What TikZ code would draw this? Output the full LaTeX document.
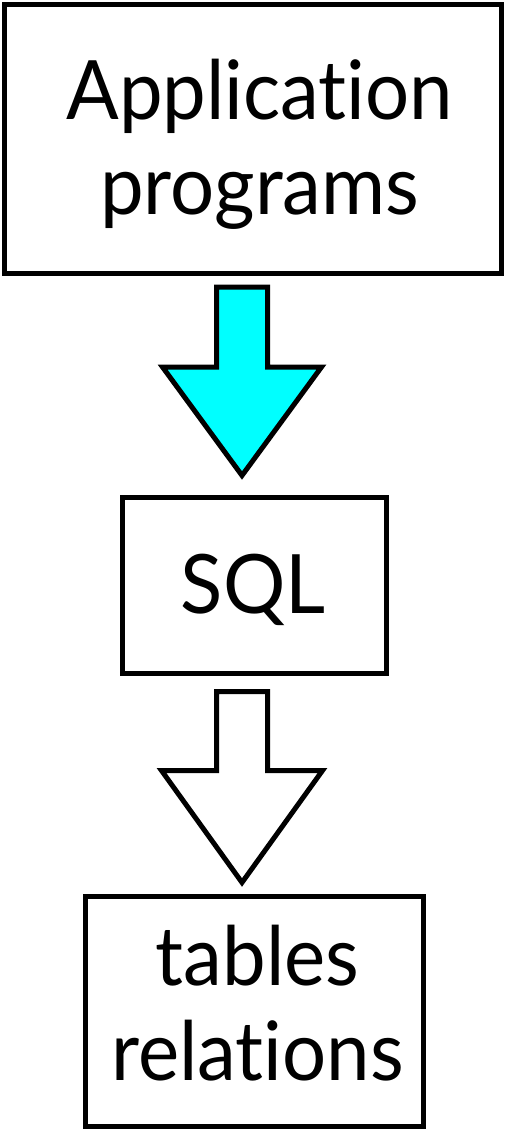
\documentclass[tikz,border=0pt]{standalone}
\usepackage{fontspec}
\setmainfont{Lato}[Ligatures={NoCommon},FakeStretch=0.95]
\usetikzlibrary{calc}
\definecolor{aqua}{RGB}{0,255,255}
\begin{document}
\begin{tikzpicture}[x=1pt,y=-1pt,line join=miter,
  box/.style={draw=black,line width=5pt,fill=white,rectangle,inner sep=0pt},
  boxtext/.style={inner sep=0pt,align=center,font=\fontsize{82}{95}\selectfont},
  blockarrow/.style={draw=black,line width=5pt,line join=miter,miter limit=10}]
  \useasboundingbox (0,0) rectangle (505,1129);
  % the three layers
  \node[box,minimum width=496.5pt,minimum height=268.5pt] (app) at (252.75,138.75) {};
  \node[box,minimum width=263.5pt,minimum height=175.5pt] (sql) at (254.25,585.25) {};
  \node[box,minimum width=338pt,minimum height=230pt] (tab) at (254.5,1011.5) {};
  \node[boxtext,xshift=7pt,yshift=-6pt] (appt) at (app.center) {Application\\programs};
  \node[boxtext,xshift=-1pt,yshift=-5pt] (sqlt) at (sql.center) {SQL};
  \node[boxtext,xshift=3pt,yshift=8pt] (tabt) at (tab.center) {tables\\relations};
  % vertical axis of the block arrows
  \coordinate (ax) at (242,0);
  % app -> sql (aqua)
  \coordinate (a1) at ($(ax |- app.south)+(0,11.5)$);
  \coordinate (t1) at ($(ax |- sql.north)-(0,19.5)$);
  \draw[blockarrow,fill=aqua]
    ($(a1)+(-25.5,0)$) -- ($(a1)+(25.5,0)$) -- ($(a1)+(25.5,80)$) -- ($(a1)+(79.5,80)$)
    -- (t1) -- ($(a1)+(-79.5,80)$) -- ($(a1)+(-25.5,80)$) -- cycle;
  % sql -> tables (white)
  \coordinate (a2) at ($(ax |- sql.south)+(0,16)$);
  \coordinate (t2) at ($(ax |- tab.north)-(0,11.5)$);
  \draw[blockarrow,fill=white]
    ($(a2)+(-25.5,0)$) -- ($(a2)+(25.5,0)$) -- ($(a2)+(25.5,79)$) -- ($(a2)+(80.5,79)$)
    -- (t2) -- ($(a2)+(-80.5,79)$) -- ($(a2)+(-25.5,79)$) -- cycle;
\end{tikzpicture}
\end{document}
